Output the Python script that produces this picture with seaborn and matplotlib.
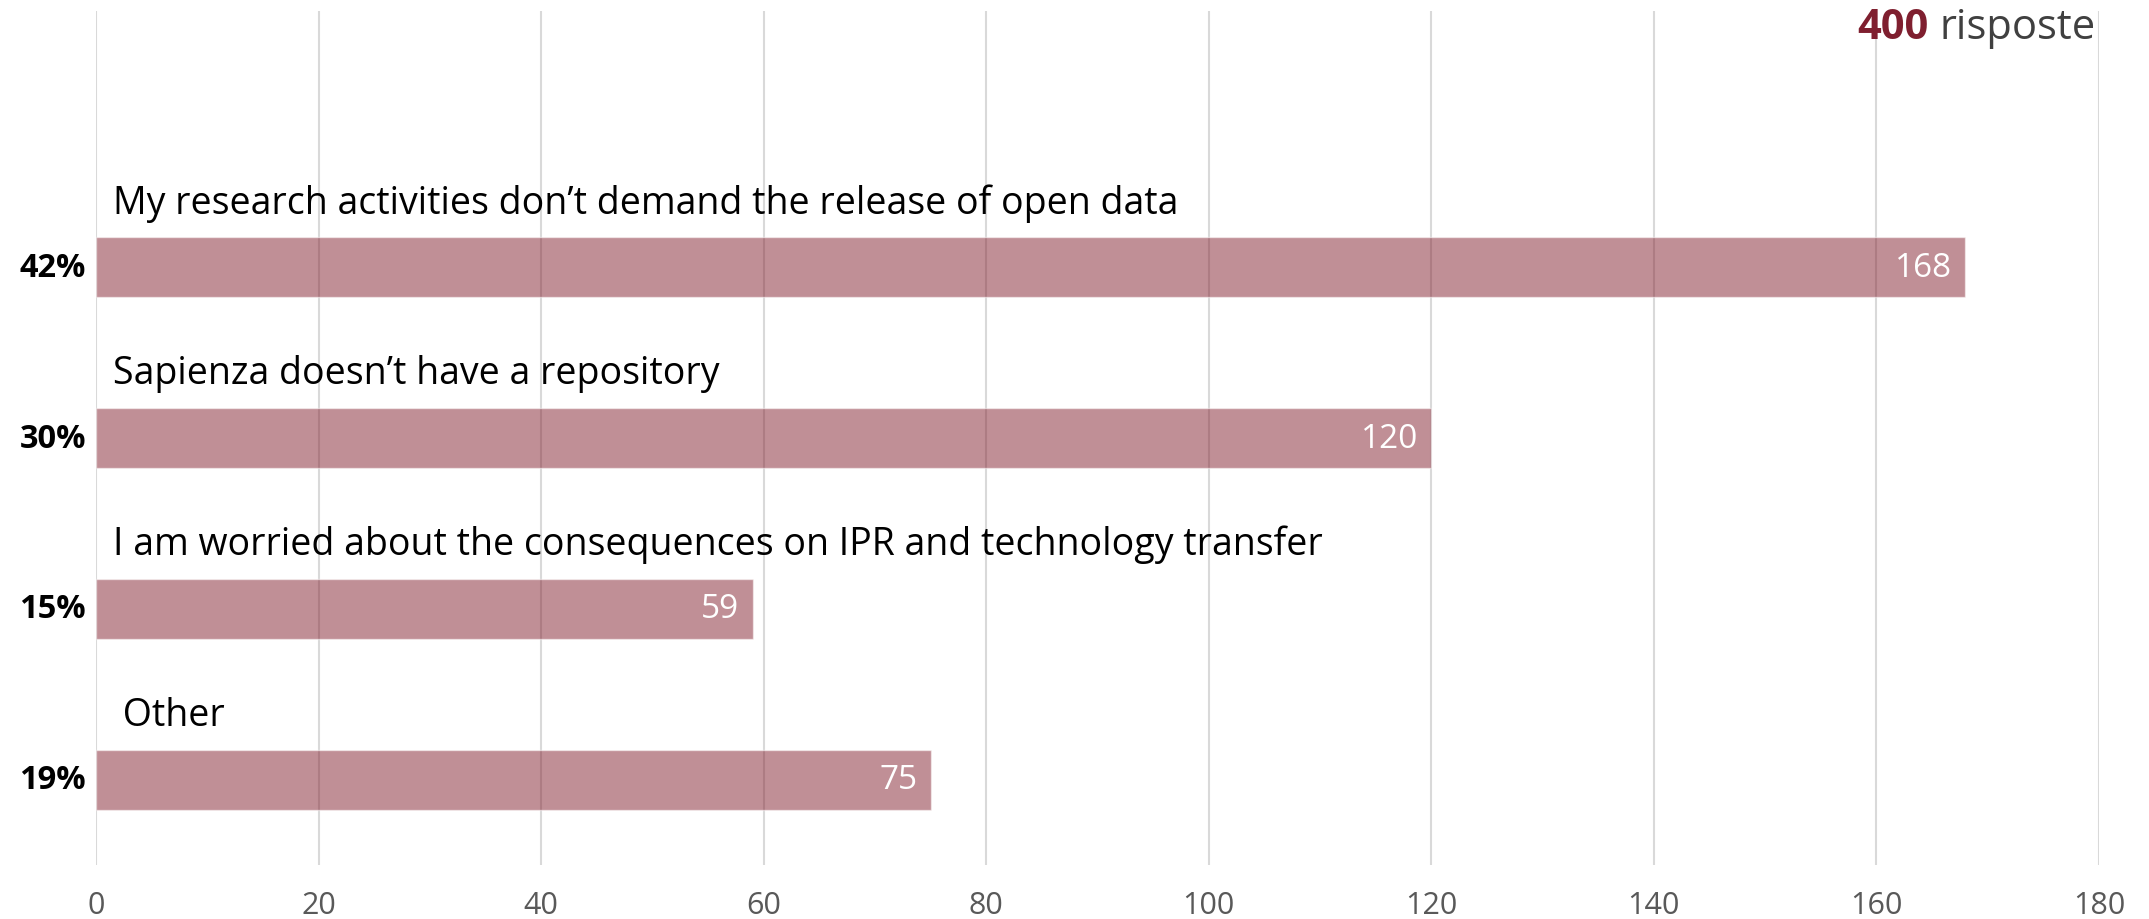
import numpy as np
import pandas as pd
import seaborn as sns
import matplotlib.pyplot as plt

# survey answers (counts) and their share of the 400 responses
reasons = ["My research activities don\u2019t demand the release of open data",
           "Sapienza doesn\u2019t have a repository",
           "I am worried about the consequences on IPR and technology transfer",
           " Other"]
counts = [168, 120, 59, 75]
shares = ["42%", "30%", "15%", "19%"]
total = 400
xticks = [0, 20, 40, 60, 80, 100, 120, 140, 160, 180]

sns.set_theme(style="white")
plt.rcParams['font.family'] = ['Open Sans', 'DejaVu Sans']

fig = plt.figure(figsize=(21.49, 9.2), dpi=100)
ax = fig.add_axes([0.0447, 0.0587, 0.932, 0.928])

data = pd.DataFrame({"reason": reasons, "count": counts})
sns.barplot(data=data, x="count", y="reason", orient="h", color="#83202F",
            alpha=0.5, width=0.35, saturation=1, ax=ax)

ax.set_xlim(0, 180)
ax.set_ylim(3.5, -1.5)
ax.set_xticks(xticks)
ax.set_xticklabels([str(t) for t in xticks], fontsize=22, color="#595959")
ax.tick_params(axis="x", length=0, pad=18)
ax.set_yticks([])
ax.set_xlabel("")
ax.set_ylabel("")
for s in ax.spines.values():
    s.set_visible(False)
ax.set_axisbelow(True)
ax.grid(axis="x", color="#d9d9d9", linewidth=1.5)

for i, (r, c, p) in enumerate(zip(reasons, counts, shares)):
    ax.text(1.5, i - 0.38, r, fontsize=27, color="black", va="center", ha="left")
    ax.text(c - 1.2, i, str(c), fontsize=24, color="white", va="center", ha="right")
    ax.text(-0.005, i, p, transform=ax.get_yaxis_transform(), fontsize=23.5,
            fontweight="bold", color="black", va="center", ha="right")

t = fig.text(0.975, 0.97, "risposte", fontsize=30, color="#404040",
             ha="right", va="center")
ax.annotate(str(total), xy=(0, 0), xycoords=t, xytext=(-8, 0),
            textcoords="offset points", ha="right", va="bottom",
            fontsize=30, fontweight="bold", color="#7F1F2F")

plt.savefig("out.png", dpi=100)
